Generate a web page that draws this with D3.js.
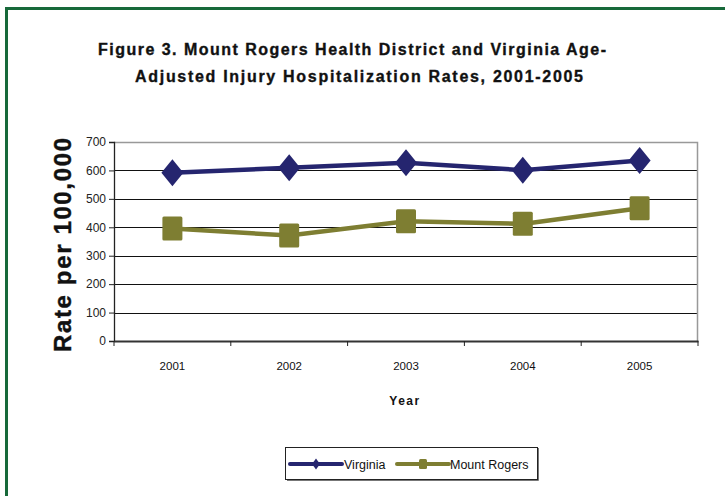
<!DOCTYPE html>
<html>
<head>
<meta charset="utf-8">
<script src="https://cdn.jsdelivr.net/npm/d3@7"></script>
<style>
  body { margin: 0; background: #fff; }
  text { font-family: Arial, "Liberation Sans", sans-serif; }
</style>
</head>
<body>
<div id="chart"></div>
<script>
const years = ['2001', '2002', '2003', '2004', '2005'];
const virginia = [592, 609, 627, 601, 635];
const mountRogers = [396, 371, 421, 412, 467];
const yTicks = [0, 100, 200, 300, 400, 500, 600, 700];

const width = 725,
      height = 496,
      margin = {top: 142, right: 27, bottom: 155, left: 114};

const svg = d3.select('#chart').append('svg')
    .attr('width', width)
    .attr('height', height);

// green page frame
svg.append('rect')
    .attr('x', 6.5).attr('y', 8.5)
    .attr('width', 760).attr('height', 520)
    .attr('fill', 'none')
    .attr('stroke', '#17693a')
    .attr('stroke-width', 3);

let x = d3.scaleBand()
    .domain(years)
    .range([margin.left, width - margin.right]);

let y = d3.scaleLinear()
    .domain([0, 700])
    .range([height - margin.bottom, margin.top]);

// title
const title = svg.append('text')
    .attr('text-anchor', 'middle')
    .style('font-weight', 'bold')
    .style('font-size', '16px')
    .attr('fill', '#111')
    .attr('stroke', '#111')
    .attr('stroke-width', 0.35);
title.append('tspan').attr('x', 352).attr('y', 55)
    .attr('textLength', 508).attr('lengthAdjust', 'spacing')
    .text('Figure 3. Mount Rogers Health District and Virginia Age-');
title.append('tspan').attr('x', 359).attr('y', 82)
    .attr('textLength', 448).attr('lengthAdjust', 'spacing')
    .text('Adjusted Injury Hospitalization Rates, 2001-2005');

// gridlines
svg.append('g')
    .selectAll('line')
    .data(yTicks.filter(d => d > 0 && d < 700))
    .enter().append('line')
    .attr('x1', x.range()[0]).attr('x2', x.range()[1])
    .attr('y1', d => Math.round(y(d)) + 0.5)
    .attr('y2', d => Math.round(y(d)) + 0.5)
    .attr('stroke', '#111')
    .attr('stroke-width', 1);

// top / right border
svg.append('path')
    .attr('d', `M${x.range()[0]},${y(700) + 0.5}H${x.range()[1] - 0.5}V${y(0)}`)
    .attr('fill', 'none')
    .attr('stroke', '#999')
    .attr('stroke-width', 1.5);

let yAxis = d3.axisLeft(y)
    .tickValues(yTicks)
    .tickSize(5)
    .tickPadding(3);

const gy = svg.append('g')
    .attr('transform', `translate(${x.range()[0]},0)`)
    .call(yAxis);
gy.select('.domain').attr('stroke', '#222').attr('stroke-width', 1.3);
gy.selectAll('.tick line').attr('stroke', '#222');
gy.selectAll('text').style('font-size', '12px').attr('fill', '#222');

let xAxis = d3.axisBottom(x)
    .tickSize(0)
    .tickPadding(21);

const gx = svg.append('g')
    .attr('transform', `translate(0,${y(0)})`)
    .call(xAxis);
gx.select('.domain').attr('stroke', '#333').attr('stroke-width', 2);
gx.selectAll('text').style('font-size', '11.5px').attr('fill', '#111');

// category separator ticks on the x axis
svg.append('g')
    .selectAll('line')
    .data(years.concat(['end']))
    .enter().append('line')
    .attr('x1', (d, i) => i < years.length ? x(d) : x.range()[1])
    .attr('x2', (d, i) => i < years.length ? x(d) : x.range()[1])
    .attr('y1', y(0))
    .attr('y2', y(0) + 5)
    .attr('stroke', '#222');

// axis titles
svg.append('text')
    .attr('transform', `translate(71,245) rotate(-90)`)
    .attr('text-anchor', 'middle')
    .style('font-weight', 'bold')
    .style('font-size', '24px')
    .attr('textLength', 214).attr('lengthAdjust', 'spacing')
    .attr('fill', '#111')
    .attr('stroke', '#111')
    .attr('stroke-width', 0.4)
    .text('Rate per 100,000');

svg.append('text')
    .attr('x', 405).attr('y', 405)
    .attr('text-anchor', 'middle')
    .style('font-weight', 'bold')
    .style('font-size', '12px')
    .style('letter-spacing', '1.5px')
    .attr('fill', '#111')
    .text('Year');

// series
const series = [
  {name: 'Virginia', values: virginia, color: '#25256f', shape: 'diamond'},
  {name: 'Mount Rogers', values: mountRogers, color: '#7e7e32', shape: 'square'}
];

let line = d3.line()
    .x((d, i) => x(years[i]) + x.bandwidth() / 2)
    .y(d => y(d));

function marker(g, shape, w, h) {
  if (shape === 'diamond') {
    g.append('path')
      .attr('d', `M0,${-h / 2}L${w / 2},0L0,${h / 2}L${-w / 2},0Z`);
  } else {
    g.append('rect')
      .attr('x', -w / 2).attr('y', -h / 2)
      .attr('width', w).attr('height', h)
      .attr('rx', 1.5);
  }
}

series.forEach(s => {
  svg.append('path')
      .datum(s.values)
      .attr('fill', 'none')
      .attr('stroke', s.color)
      .attr('stroke-width', 4.5)
      .attr('d', line);

  s.values.forEach((v, i) => {
    const g = svg.append('g')
        .attr('fill', s.color)
        .attr('transform', `translate(${x(years[i]) + x.bandwidth() / 2},${y(v)})`);
    if (s.shape === 'diamond') marker(g, 'diamond', 22, 27);
    else marker(g, 'square', 20, 24);
  });
});

// legend
const legend = svg.append('g');
legend.append('rect')
    .attr('x', 285.5).attr('y', 447.5)
    .attr('width', 252).attr('height', 32)
    .attr('fill', '#fff')
    .attr('stroke', '#222');
legend.append('path')
    .attr('d', 'M287,480.5H538.5V448')
    .attr('fill', 'none')
    .attr('stroke', '#777')
    .attr('stroke-width', 1);

const legendItems = [
  {x0: 290, x1: 342, tx: 344},
  {x0: 397, x1: 449, tx: 450}
];
series.forEach((s, i) => {
  const it = legendItems[i];
  legend.append('line')
      .attr('x1', it.x0).attr('x2', it.x1)
      .attr('y1', 464).attr('y2', 464)
      .attr('stroke', s.color)
      .attr('stroke-width', 4)
      .attr('stroke-linecap', 'round');
  const g = legend.append('g')
      .attr('fill', s.color)
      .attr('transform', `translate(${(it.x0 + it.x1) / 2},464)`);
  if (s.shape === 'diamond') marker(g, 'diamond', 8, 11);
  else marker(g, 'square', 8, 10);
  legend.append('text')
      .attr('x', it.tx).attr('y', 468.5)
      .style('font-size', '12.5px')
      .attr('fill', '#111')
      .text(s.name);
});
</script>
</body>
</html>
